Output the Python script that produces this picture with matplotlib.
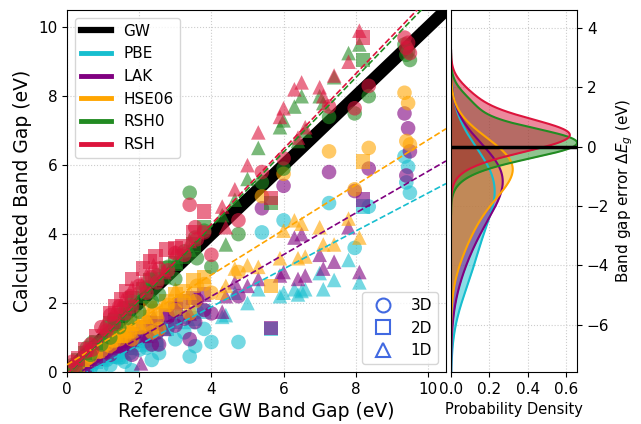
import numpy as np
import matplotlib
matplotlib.use("Agg")
import matplotlib.pyplot as plt
from matplotlib.lines import Line2D

# ---------------- data ----------------
methods = ["PBE", "LAK", "HSE06", "RSH0", "RSH"]
colors = {"GW": "black", "PBE": "#17becf", "LAK": "purple", "HSE06": "orange",
          "RSH0": "forestgreen", "RSH": "crimson"}

# 3D materials (circles)
gw_3d   = [0.15, 0.25, 0.55, 0.65, 0.70, 0.95, 1.10, 1.20, 1.30, 1.45, 1.60, 1.75, 1.80, 2.00,
           2.20, 2.35, 2.50, 2.55, 2.80, 3.00, 3.25, 3.40, 3.55, 3.60, 3.80, 4.00, 4.75, 5.40,
           6.00, 7.26, 7.97, 8.36, 9.35, 9.40, 9.45, 9.50]
pbe_3d  = [0.00, 0.00, 0.05, 0.10, 0.20, 0.15, 0.35, 0.20, 0.45, 0.40, 0.30, 0.55, 0.05, 0.65,
           0.70, 0.35, 0.80, 0.55, 1.30, 0.95, 1.15, 0.45, 0.75, 1.75, 1.25, 0.87, 0.87, 4.05,
           4.40, 4.90, 3.60, 4.80, 6.25, 5.50, 5.95, 5.20]
lak_3d  = [0.05, 0.05, 0.20, 0.30, 0.40, 0.45, 0.60, 0.50, 0.70, 0.75, 0.80, 0.85, 0.50, 1.00,
           1.05, 0.80, 1.15, 0.80, 1.60, 1.35, 1.55, 0.95, 1.45, 2.10, 1.80, 1.70, 2.20, 4.75,
           5.40, 5.80, 5.25, 5.90, 7.50, 5.70, 7.07, 6.40]
hse_3d  = [0.10, 0.15, 0.35, 0.45, 0.60, 0.60, 0.80, 0.75, 0.90, 0.95, 1.05, 1.15, 0.95, 1.30,
           1.40, 1.15, 1.55, 1.25, 1.95, 1.80, 2.05, 1.70, 2.05, 2.50, 2.55, 2.30, 2.90, 5.10,
           5.75, 6.40, 5.30, 6.50, 8.10, 6.70, 7.80, 6.60]
rsh0_3d = [0.20, 0.05, 0.70, 0.50, 0.85, 0.80, 1.30, 1.00, 1.55, 1.30, 1.85, 1.55, 2.05, 1.75,
           2.45, 2.05, 2.80, 2.25, 3.05, 2.70, 3.50, 5.20, 3.90, 3.30, 4.10, 3.05, 4.00, 5.50,
           5.90, 7.40, 7.50, 8.00, 9.50, 9.20, 9.30, 9.05]
rsh_3d  = [0.30, 0.20, 0.60, 0.80, 0.65, 1.30, 1.20, 1.65, 1.40, 1.90, 1.70, 2.20, 1.90, 2.50,
           2.30, 2.75, 2.60, 3.00, 2.95, 3.45, 3.40, 4.85, 4.20, 3.85, 4.05, 3.40, 4.40, 5.80,
           6.20, 7.70, 7.65, 8.30, 9.70, 9.40, 9.55, 9.25]

# 2D materials (squares)
gw_2d   = [0.30, 0.50, 0.80, 1.20, 1.35, 1.50, 1.65, 1.80, 2.10, 2.30, 2.45, 2.75, 3.00, 3.20,
           3.50, 3.80, 5.65, 8.20]
pbe_2d  = [0.05, 0.10, 0.30, 0.55, 0.50, 0.45, 0.70, 0.80, 0.90, 1.05, 0.95, 1.25, 1.45, 1.60,
           1.55, 1.75, 1.25, 4.80]
lak_2d  = [0.10, 0.20, 0.40, 0.75, 0.80, 0.75, 0.95, 1.10, 1.30, 1.45, 1.40, 1.65, 1.85, 2.05,
           2.15, 2.25, 1.28, 5.00]
hse_2d  = [0.20, 0.35, 0.60, 0.95, 1.05, 1.05, 1.20, 1.40, 1.60, 1.85, 1.75, 2.05, 2.25, 2.35,
           2.65, 2.75, 2.50, 6.10]
rsh0_2d = [0.35, 0.55, 0.85, 1.40, 1.50, 1.65, 1.85, 2.15, 2.40, 2.65, 2.70, 3.00, 3.15, 3.35,
           3.70, 4.20, 4.90, 9.05]
rsh_2d  = [0.40, 0.65, 1.05, 1.70, 1.90, 2.10, 2.35, 2.70, 3.00, 3.20, 3.35, 3.55, 3.60, 3.65,
           4.05, 4.65, 5.05, 9.70]

# 1D materials (triangles)
gw_1d   = [1.00, 1.30, 1.55, 1.80, 2.05, 2.20, 2.40, 2.70, 3.00, 3.40, 4.30, 4.40, 4.65, 5.00,
           5.30, 5.90, 6.00, 6.30, 6.40, 6.50, 6.60, 7.00, 7.10, 7.40, 7.80, 8.10]
pbe_1d  = [0.40, 0.45, 0.60, 0.70, 0.90, 0.80, 1.20, 1.30, 1.60, 1.45, 1.60, 1.65, 2.30, 2.00,
           2.40, 2.20, 2.30, 2.40, 2.25, 2.35, 2.40, 2.87, 2.40, 2.67, 3.25, 2.60]
lak_1d  = [0.60, 0.75, 0.90, 0.95, 0.25, 1.05, 1.60, 1.25, 2.00, 1.70, 1.75, 2.20, 2.60, 2.50,
           2.70, 2.80, 2.90, 3.90, 2.70, 4.00, 2.80, 3.40, 3.00, 3.20, 4.20, 2.90]
hse_1d  = [0.85, 1.05, 1.25, 1.40, 1.30, 1.60, 2.00, 1.95, 2.40, 2.30, 2.30, 2.50, 3.00, 3.10,
           3.05, 3.30, 4.10, 4.40, 3.30, 4.30, 3.35, 4.20, 3.70, 3.70, 4.45, 3.90]
rsh0_1d = [1.10, 1.45, 1.75, 2.00, 2.20, 2.35, 2.70, 2.75, 3.20, 3.55, 4.55, 3.70, 5.00, 5.60,
           6.50, 7.10, 7.30, 7.70, 6.70, 8.00, 7.00, 8.00, 7.80, 8.55, 9.25, 9.50]
rsh_1d  = [1.35, 1.75, 2.10, 2.45, 2.60, 2.80, 3.10, 2.90, 3.50, 3.80, 4.80, 4.20, 5.30, 6.00,
           6.95, 7.40, 7.65, 8.20, 6.80, 8.40, 7.10, 8.26, 8.00, 8.60, 9.00, 9.90]

# linear fits (slope, intercept)
fit_slope = [0.550, 0.604, 0.652, 1.080, 1.090]
fit_icpt  = [-0.31, -0.22, 0.21, -0.10, -0.07]

dims = ["3D", "2D", "1D"]
markers = {"3D": "o", "2D": "s", "1D": "^"}
gw = {"3D": gw_3d, "2D": gw_2d, "1D": gw_1d}
calc = {
    "PBE":   {"3D": pbe_3d,  "2D": pbe_2d,  "1D": pbe_1d},
    "LAK":   {"3D": lak_3d,  "2D": lak_2d,  "1D": lak_1d},
    "HSE06": {"3D": hse_3d,  "2D": hse_2d,  "1D": hse_1d},
    "RSH0":  {"3D": rsh0_3d, "2D": rsh0_2d, "1D": rsh0_1d},
    "RSH":   {"3D": rsh_3d,  "2D": rsh_2d,  "1D": rsh_1d},
}

# ---------------- figure ----------------
fig = plt.figure(figsize=(6.41, 4.24), dpi=100)
ax = fig.add_axes([0.1045, 0.1226, 0.5913, 0.8538])
ax2 = fig.add_axes([0.7036, 0.1226, 0.1966, 0.8538])

lim = (0, 10.5)
ax.plot(lim, lim, color="black", lw=9, zorder=1, solid_capstyle="butt")

for m in methods:
    for d in dims:
        ax.scatter(gw[d], calc[m][d], s=110, marker=markers[d], color=colors[m],
                   alpha=0.6, edgecolors="none", zorder=2)

xline = np.array(lim)
for m, k, b in zip(methods, fit_slope, fit_icpt):
    ax.plot(xline, k * xline + b, ls="--", lw=1.2, color=colors[m], zorder=3)

ax.set_xlim(lim)
ax.set_ylim(lim)
ax.set_xticks([0, 2, 4, 6, 8, 10])
ax.set_yticks([0, 2, 4, 6, 8, 10])
ax.tick_params(labelsize=11)
ax.grid(True, ls=":", color="#cccccc", lw=0.8)
ax.set_axisbelow(True)
ax.set_xlabel("Reference GW Band Gap (eV)", fontsize=13.5)
ax.set_ylabel("Calculated Band Gap (eV)", fontsize=13.5)

h1 = [Line2D([], [], color="black", lw=4.5, label="GW")] + \
     [Line2D([], [], color=colors[m], lw=3.5, label=m) for m in methods]
leg1 = ax.legend(handles=h1, loc="upper left", fontsize=11, handlelength=2.0)
ax.add_artist(leg1)
h2 = [Line2D([], [], ls="none", marker=markers[d], markersize=10, markerfacecolor="none",
             markeredgecolor="royalblue", markeredgewidth=1.5, label=d) for d in dims]
ax.legend(handles=h2, loc="lower right", fontsize=11)

# ---------------- KDE side panel ----------------
def kde(vals, bw_adjust=2.0, cut=3.0, n=300):
    v = np.asarray(vals, float)
    bw = bw_adjust * v.std(ddof=1) * len(v) ** (-1 / 5)
    grid = np.linspace(v.min() - cut * bw, v.max() + cut * bw, n)
    z = (grid[:, None] - v[None, :]) / bw
    dens = np.exp(-0.5 * z ** 2).sum(axis=1) / (len(v) * bw * np.sqrt(2 * np.pi))
    return grid, dens

for m in methods:
    err = np.concatenate([np.array(calc[m][d]) - np.array(gw[d]) for d in dims])
    y, dens = kde(err)
    ax2.fill_betweenx(y, 0, dens, color=colors[m], alpha=0.5, lw=0)
    ax2.plot(dens, y, color=colors[m], lw=1.5)

ax2.axhline(0, color="black", lw=2.5)
ax2.set_ylim(-7.6, 4.6)
ax2.set_xlim(0, 0.657)
ax2.set_xticks([0.0, 0.2, 0.4, 0.6])
ax2.set_yticks([-6, -4, -2, 0, 2, 4])
ax2.yaxis.tick_right()
ax2.yaxis.set_label_position("right")
ax2.tick_params(labelsize=11)
ax2.grid(True, ls=":", color="#cccccc", lw=0.8)
ax2.set_axisbelow(True)
ax2.set_xlabel("Probability Density", fontsize=10.5)
ax2.set_ylabel(r"Band gap error $\Delta E_g$ (eV)", fontsize=11)

fig.savefig("out.png", dpi=100)
